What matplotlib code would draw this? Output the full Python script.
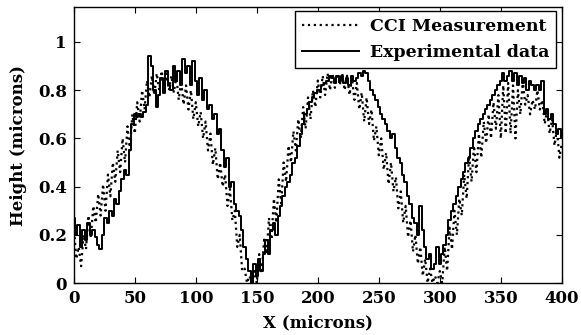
import numpy as np
import matplotlib.pyplot as plt

plt.rcParams['font.family'] = ['DejaVu Serif']
plt.rcParams['font.weight'] = 'bold'

# sample positions (microns), 2 micron spacing
x_um = np.arange(0, 401, 2)

# CCI measured profile
cci = [
    0.24, 0.10, 0.15, 0.07, 0.20, 0.14, 0.28, 0.19, 0.32, 0.25,
    0.37, 0.28, 0.41, 0.30, 0.45, 0.36, 0.50, 0.42, 0.55, 0.46,
    0.60, 0.50, 0.65, 0.55, 0.70, 0.62, 0.75, 0.67, 0.80, 0.72,
    0.84, 0.77, 0.86, 0.78, 0.87, 0.80, 0.88, 0.81, 0.87, 0.80,
    0.86, 0.79, 0.86, 0.76, 0.84, 0.74, 0.82, 0.72, 0.80, 0.68,
    0.75, 0.65, 0.71, 0.60, 0.67, 0.55, 0.62, 0.49, 0.56, 0.43,
    0.50, 0.40, 0.45, 0.32, 0.39, 0.26, 0.30, 0.15, 0.20, 0.05,
    0.06, 0.00, 0.03, 0.00, 0.05, 0.00, 0.12, 0.04, 0.18, 0.12,
    0.27, 0.18, 0.35, 0.25, 0.43, 0.33, 0.50, 0.42, 0.57, 0.50,
    0.63, 0.55, 0.68, 0.60, 0.73, 0.64, 0.77, 0.68, 0.80, 0.73,
    0.84, 0.77, 0.86, 0.78, 0.87, 0.80, 0.87, 0.81, 0.87, 0.82,
    0.87, 0.80, 0.86, 0.78, 0.85, 0.76, 0.83, 0.72, 0.79, 0.67,
    0.77, 0.66, 0.72, 0.59, 0.65, 0.53, 0.60, 0.47, 0.54, 0.41,
    0.50, 0.38, 0.44, 0.31, 0.38, 0.25, 0.32, 0.19, 0.26, 0.13,
    0.20, 0.08, 0.15, 0.03, 0.10, 0.00, 0.06, 0.00, 0.03, 0.00,
    0.05, 0.00, 0.15, 0.05, 0.23, 0.14, 0.30, 0.20, 0.35, 0.28,
    0.45, 0.35, 0.53, 0.42, 0.57, 0.46, 0.62, 0.52, 0.67, 0.58,
    0.70, 0.60, 0.75, 0.64, 0.78, 0.60, 0.82, 0.62, 0.83, 0.62,
    0.82, 0.60, 0.80, 0.70, 0.84, 0.74, 0.78, 0.70, 0.76, 0.72,
    0.80, 0.72, 0.76, 0.66, 0.72, 0.62, 0.68, 0.57, 0.64, 0.52, 0.58,
]

# experimental profile
exper = [
    0.27, 0.20, 0.24, 0.15, 0.22, 0.18, 0.25, 0.20, 0.22, 0.19,
    0.16, 0.14, 0.20, 0.27, 0.25, 0.30, 0.28, 0.35, 0.33, 0.38,
    0.43, 0.47, 0.45, 0.55, 0.66, 0.70, 0.69, 0.70, 0.69, 0.71,
    0.74, 0.94, 0.90, 0.80, 0.73, 0.78, 0.85, 0.79, 0.88, 0.82,
    0.80, 0.90, 0.84, 0.88, 0.82, 0.93, 0.87, 0.90, 0.82, 0.92,
    0.84, 0.78, 0.85, 0.76, 0.80, 0.72, 0.74, 0.68, 0.70, 0.62,
    0.64, 0.55, 0.48, 0.52, 0.40, 0.42, 0.33, 0.30, 0.28, 0.22,
    0.15, 0.10, 0.05, 0.00, 0.08, 0.03, 0.10, 0.05, 0.12, 0.18,
    0.12, 0.22, 0.25, 0.20, 0.28, 0.32, 0.36, 0.40, 0.42, 0.45,
    0.50, 0.52, 0.57, 0.62, 0.66, 0.70, 0.72, 0.75, 0.77, 0.79,
    0.80, 0.80, 0.82, 0.83, 0.84, 0.86, 0.85, 0.83, 0.86, 0.84,
    0.86, 0.83, 0.85, 0.82, 0.86, 0.84, 0.85, 0.87, 0.86, 0.88,
    0.87, 0.84, 0.80, 0.78, 0.76, 0.73, 0.70, 0.68, 0.66, 0.63,
    0.60, 0.62, 0.56, 0.52, 0.50, 0.45, 0.42, 0.36, 0.33, 0.27,
    0.25, 0.20, 0.32, 0.22, 0.15, 0.10, 0.12, 0.06, 0.08, 0.15,
    0.08, 0.12, 0.16, 0.20, 0.26, 0.30, 0.33, 0.36, 0.40, 0.43,
    0.46, 0.50, 0.52, 0.56, 0.60, 0.63, 0.66, 0.68, 0.70, 0.72,
    0.74, 0.76, 0.78, 0.80, 0.82, 0.84, 0.87, 0.84, 0.86, 0.88,
    0.84, 0.87, 0.82, 0.86, 0.83, 0.85, 0.80, 0.84, 0.82, 0.80,
    0.82, 0.80, 0.84, 0.70, 0.72, 0.68, 0.70, 0.66, 0.62, 0.64, 0.60,
]

fig = plt.figure(figsize=(5.81, 3.35), dpi=100)
ax = fig.add_axes([0.127, 0.155, 0.840, 0.824])

ax.plot(x_um, cci, ':', color='black', lw=1.6, label='CCI Measurement')
ax.plot(x_um, exper, '-', color='black', lw=1.4, drawstyle='steps-mid',
        label='Experimental data')

ax.set_xlim(0, 400)
ax.set_ylim(0, 1.145)
ax.set_xticks(np.arange(0, 401, 50))
ax.set_yticks([0, 0.2, 0.4, 0.6, 0.8, 1.0])
ax.set_yticklabels(['0', '0.2', '0.4', '0.6', '0.8', '1'])
ax.tick_params(direction='in', top=True, right=True, labelsize=12, length=4,
               pad=5)
for s in ax.spines.values():
    s.set_linewidth(1.0)

ax.set_xlabel('X (microns)', fontsize=12, fontweight='bold', labelpad=5)
ax.set_ylabel('Height (microns)', fontsize=12, fontweight='bold', labelpad=8)

leg = ax.legend(loc='upper right', fontsize=12.5, handlelength=3.3,
                fancybox=False, edgecolor='black', framealpha=1,
                bbox_to_anchor=(0.988, 0.985),
                borderaxespad=0.0, borderpad=0.4, labelspacing=0.5,
                handletextpad=0.6)
leg.get_frame().set_linewidth(1.0)

fig.savefig('out.png', dpi=100)
